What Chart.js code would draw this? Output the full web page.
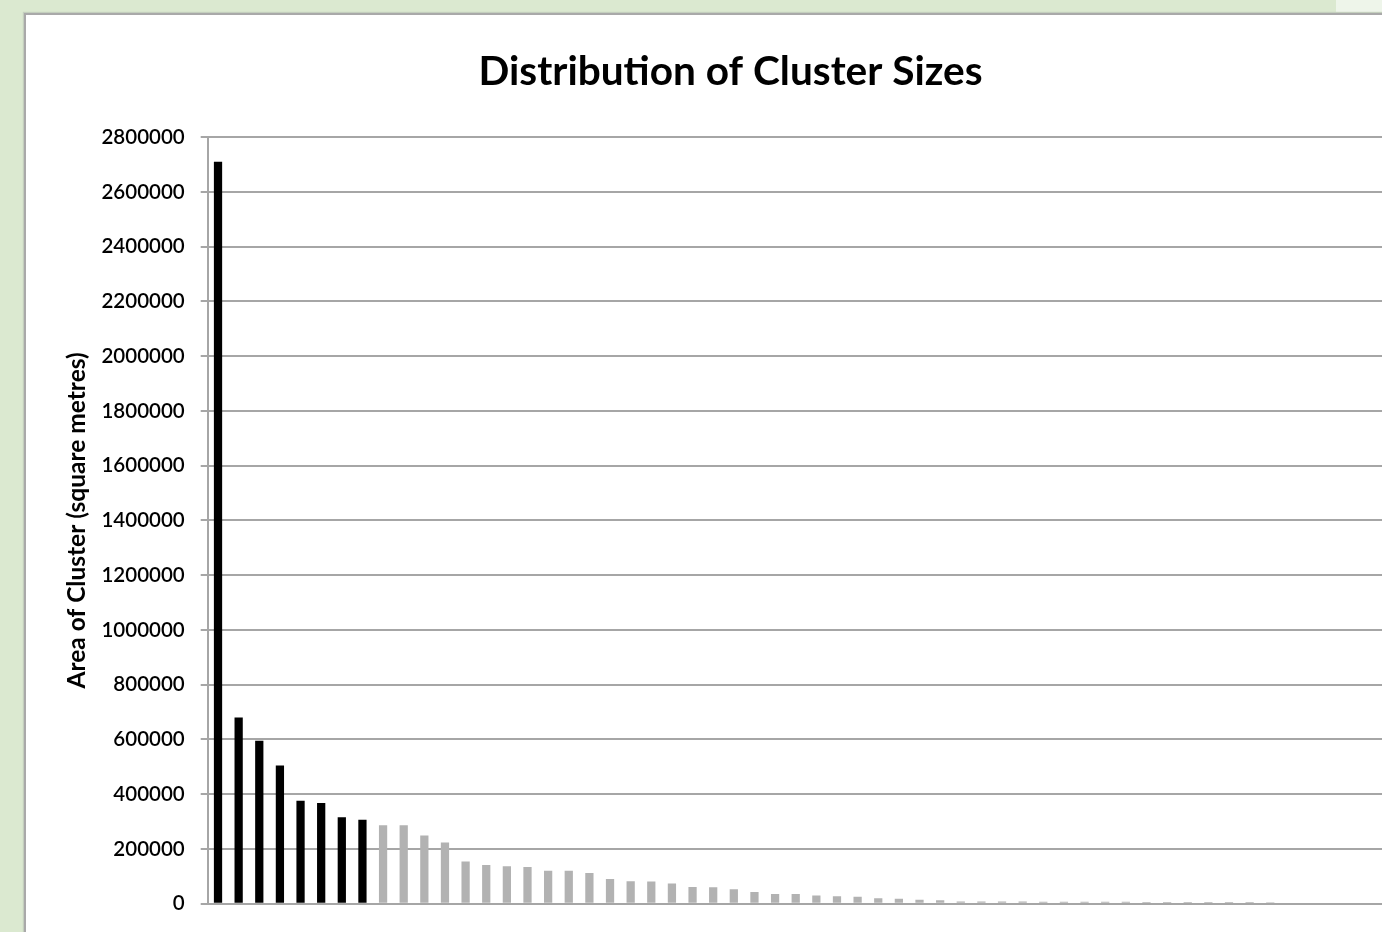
<!DOCTYPE html>
<html>
<head>
<meta charset="utf-8">
<title>Distribution of Cluster Sizes</title>
<script src="https://cdn.jsdelivr.net/npm/chart.js@4"></script>
<style>
    html, body {
        margin: 0;
        padding: 0;
        width: 1382px;
        height: 932px;
        overflow: hidden;
        background: #dbe9d0;
    }
    #topStrip {
        position: absolute;
        left: 1336px;
        top: 0;
        width: 60px;
        height: 13px;
        background: #eef5ea;
    }
    #frame {
        position: absolute;
        left: 24px;
        top: 13px;
        width: 1500px;
        height: 1000px;
        background: #fff;
        border-left: 2px solid #a9a9a9;
        border-top: 2px solid #a9a9a9;
        box-shadow: -1px -1px 1px #c4cfbe;
    }
    #chartBox {
        position: absolute;
        left: 0;
        top: 0;
        width: 1436px;
        height: 917px;
    }
</style>
</head>
<body>
<div id="topStrip"></div>
<div id="frame">
    <div id="chartBox"><canvas id="clusterChart"></canvas></div>
</div>
<script>
// cluster ranks (x axis, labels hidden) - the plot runs on past the last visible bar
const clusterRanks = Array.from({ length: 59 }, (_, i) => String(i + 1));

// area of each cluster in square metres, largest first
const clusterAreas = [
    2710000, 680000, 595000, 505000, 376000, 368000, 316000, 307000,
    287000, 287000, 249000, 224000, 154000, 141000, 137000, 134000,
    120000, 120000, 112000, 90000, 82000, 81000, 74000, 61000,
    60000, 53000, 43000, 35000, 35000, 30000, 27000, 25000,
    20000, 18000, 14000, 13000, 8000, 8000, 8000, 8000,
    7000, 7000, 7000, 7000, 7000, 6000, 6000, 6000,
    6000, 6000, 6000, 5000
];

// the biggest clusters are drawn in black
const blackBars = 8;

const yMin = 0;
const yMax = 2800000;
const yStep = 200000;

Chart.defaults.font.family = 'Lato, "Liberation Sans", sans-serif';
Chart.defaults.color = '#000';

const ctx = document.getElementById('clusterChart').getContext('2d');
new Chart(ctx, {
    type: 'bar',
    data: {
        labels: clusterRanks,
        datasets: [{
            label: 'Area of Cluster',
            data: clusterAreas,
            backgroundColor: clusterAreas.map((v, i) => i < blackBars ? '#000000' : '#b2b2b2'),
            borderWidth: 0,
            barPercentage: 0.4,
            categoryPercentage: 1.0
        }]
    },
    options: {
        responsive: true,
        maintainAspectRatio: false,
        animation: false,
        layout: {
            padding: { left: 10, top: 0, right: 37, bottom: 13 }
        },
        plugins: {
            legend: { display: false },
            tooltip: { enabled: false },
            title: {
                display: true,
                text: 'Distribution of Cluster Sizes',
                font: { size: 40.6, weight: 'bold' },
                color: '#000',
                padding: { top: 33, bottom: 40.5 }
            }
        },
        scales: {
            x: {
                grid: { display: false },
                ticks: { display: false },
                border: { display: true, color: '#a6a6a6', width: 2 }
            },
            y: {
                min: yMin,
                max: yMax,
                ticks: {
                    stepSize: yStep,
                    padding: 16,
                    font: { size: 20.5, weight: 600 },
                    color: '#000',
                    callback: (value) => String(value)
                },
                grid: {
                    color: '#a6a6a6',
                    lineWidth: 2,
                    tickLength: 7
                },
                border: { display: true, color: '#a6a6a6', width: 2 },
                title: {
                    display: true,
                    text: 'Area of Cluster (square metres)',
                    font: { size: 24.5, weight: 'bold' },
                    color: '#000',
                    padding: { top: 26.4, bottom: 0 }
                },
                afterFit: (scale) => {
                    scale.width = 171.7;
                }
            }
        }
    }
});
</script>
</body>
</html>
